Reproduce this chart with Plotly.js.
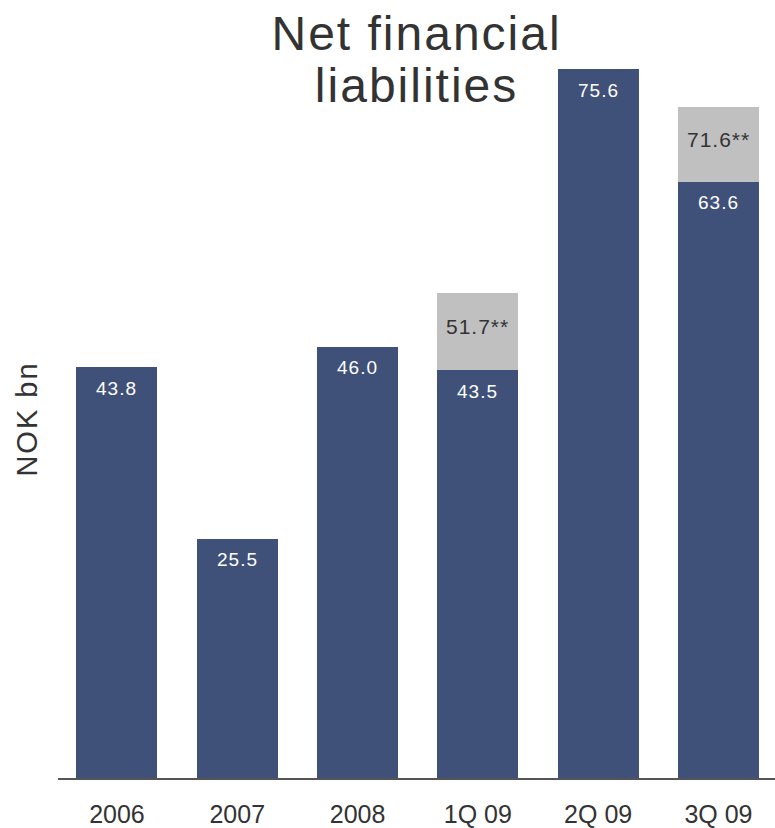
<!DOCTYPE html>
<html>
<head>
<meta charset="utf-8">
<script src="https://cdn.plot.ly/plotly-3.0.1.min.js"></script>
<style>
html, body { margin: 0; padding: 0; background: #fff; }
#chart { width: 775px; height: 828px; }
.gtitle { letter-spacing: 2px; }
.ytitle { letter-spacing: 2px; }
.annotation-text { letter-spacing: 1px; }
</style>
</head>
<body>
<div id="chart"></div>
<script>
const categories = ["2006", "2007", "2008", "1Q 09", "2Q 09", "3Q 09"];
const baseValues = [43.8, 25.5, 46.0, 43.5, 75.6, 63.6];
const totalValues = [null, null, null, 51.7, null, 71.6];
const baseLabels = ["43.8", "25.5", "46.0", "43.5", "75.6", "63.6"];
const totalLabels = [null, null, null, "51.7**", null, "71.6**"];

const extraValues = totalValues.map((t, i) => t === null ? 0 : +(t - baseValues[i]).toFixed(2));

const traceBase = {
  type: "bar",
  x: categories,
  y: baseValues,
  marker: { color: "#3F5178" },
  showlegend: false
};
const traceExtra = {
  type: "bar",
  x: categories,
  y: extraValues,
  marker: { color: "#C0C0C0" },
  showlegend: false
};

const FONT = "Liberation Sans, Arial, sans-serif";
const annotations = [];
categories.forEach((c, i) => {
  annotations.push({
    x: i, y: baseValues[i], xref: "x", yref: "y",
    text: baseLabels[i], showarrow: false,
    yanchor: "middle", yshift: -21,
    font: { family: FONT, size: 19, color: "#ffffff" }
  });
  if (totalValues[i] !== null) {
    annotations.push({
      x: i, y: totalValues[i], xref: "x", yref: "y",
      text: totalLabels[i], showarrow: false,
      yanchor: "middle", yshift: -33,
      font: { family: FONT, size: 21, color: "#333333" }
    });
  }
});

const layout = {
  width: 775, height: 828,
  margin: { l: 58, r: 0, t: 60, b: 50 },
  paper_bgcolor: "#ffffff",
  plot_bgcolor: "#ffffff",
  barmode: "stack",
  bargap: 0.327,
  title: {
    text: "Net financial<br>liabilities",
    x: 0.5375, xanchor: "center",
    y: 0.94, yref: "container", yanchor: "top",
    font: { family: FONT, size: 48, color: "#333333" }
  },
  xaxis: {
    type: "category",
    range: [-0.49, 5.47], autorange: false,
    showline: true, linecolor: "#555555", linewidth: 1.5,
    showgrid: false, zeroline: false,
    ticks: "", ticklabelstandoff: 13,
    tickfont: { family: FONT, size: 25, color: "#333333" }
  },
  yaxis: {
    range: [0, 76.56], autorange: false,
    showgrid: false, zeroline: false, showline: false,
    showticklabels: false, ticks: "",
    title: {
      text: "NOK bn", standoff: 10,
      font: { family: FONT, size: 29, color: "#333333" }
    }
  },
  annotations: annotations
};

Plotly.newPlot("chart", [traceBase, traceExtra], layout, { displayModeBar: false }).then(function () {
  const lines = document.querySelectorAll(".gtitle tspan.line");
  if (lines.length > 1) lines[1].setAttribute("dy", "1.1em");
});
</script>
</body>
</html>
